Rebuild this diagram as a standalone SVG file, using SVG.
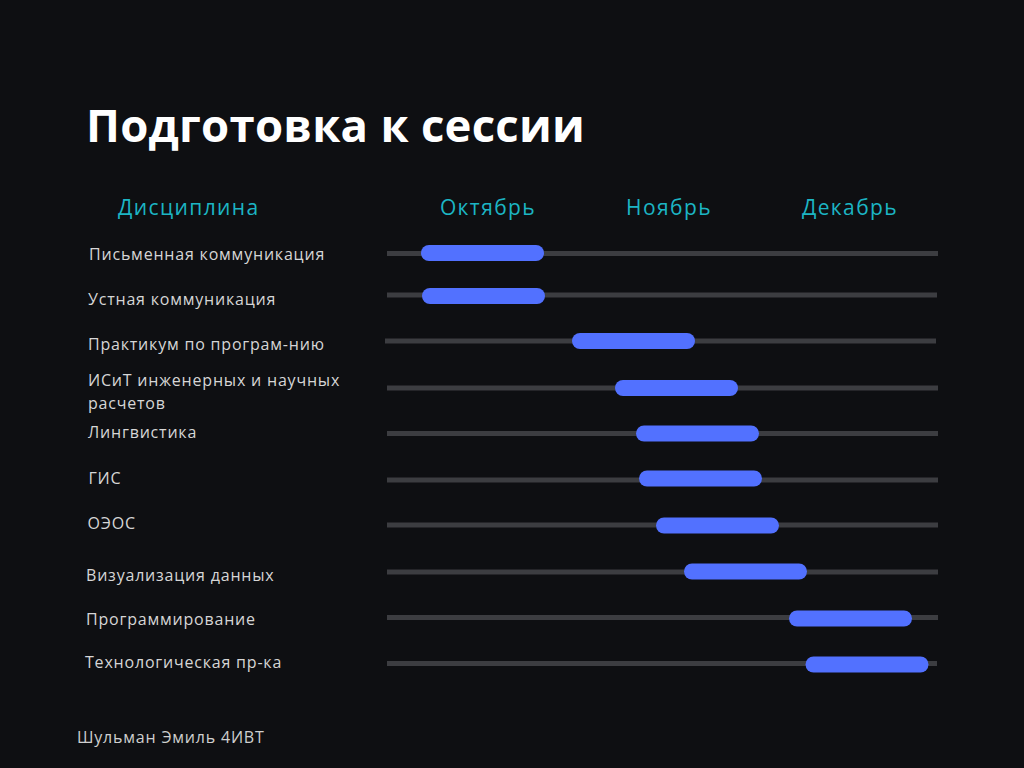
<svg xmlns="http://www.w3.org/2000/svg" width="1024" height="768" viewBox="0 0 1024 768">
<style>
.bg{fill:#0e0f12}
.title{font-family:"Open Sans",sans-serif;font-weight:700;font-size:45.5px;fill:#ffffff;letter-spacing:0.25px}
.head{font-family:"Open Sans",sans-serif;font-size:21px;fill:#1cb5c4;letter-spacing:1.4px}
.lbl{font-family:"Open Sans",sans-serif;font-size:16px;fill:#d6d6d6;letter-spacing:0.8px}
.foot{font-family:"Open Sans",sans-serif;font-size:16px;fill:#cfcfcf;letter-spacing:0.8px}
.track{stroke:#3c3d41;stroke-width:5;fill:none}
.bar{fill:#5271ff}
</style>
<rect class="bg" x="0" y="0" width="1024" height="768"/>
<text class="title" x="86" y="142">Подготовка к сессии</text>
<g id="header">
<text class="head" x="118" y="215">Дисциплина</text>
<text class="head" x="488" y="215" text-anchor="middle">Октябрь</text>
<text class="head" x="669" y="215" text-anchor="middle">Ноябрь</text>
<text class="head" x="850" y="215" text-anchor="middle">Декабрь</text>
</g>
<g id="tracks">
<line class="track" x1="387" y1="253.5" x2="938" y2="253.5"/>
<line class="track" x1="387" y1="295" x2="937" y2="295"/>
<line class="track" x1="385" y1="341" x2="936" y2="341"/>
<line class="track" x1="387" y1="388" x2="938" y2="388"/>
<line class="track" x1="387" y1="433.5" x2="938" y2="433.5"/>
<line class="track" x1="387" y1="480" x2="938" y2="480"/>
<line class="track" x1="387" y1="525" x2="938" y2="525"/>
<line class="track" x1="387" y1="572" x2="938" y2="572"/>
<line class="track" x1="387" y1="617.5" x2="938" y2="617.5"/>
<line class="track" x1="387" y1="663.5" x2="937" y2="663.5"/>
</g>
<g id="row1"><text class="lbl" x="89" y="260">Письменная коммуникация</text><rect class="bar" x="421" y="245" width="123" height="16" rx="8"/></g>
<g id="row2"><text class="lbl" x="88" y="305">Устная коммуникация</text><rect class="bar" x="422" y="288" width="123" height="16" rx="8"/></g>
<g id="row3"><text class="lbl" x="88" y="350">Практикум по програм-нию</text><rect class="bar" x="572" y="333" width="123" height="16" rx="8"/></g>
<g id="row4"><text class="lbl" x="88" y="385.5">ИСиТ инженерных и научных</text><text class="lbl" x="88" y="408.5">расчетов</text><rect class="bar" x="615" y="380" width="123" height="16" rx="8"/></g>
<g id="row5"><text class="lbl" x="88" y="438">Лингвистика</text><rect class="bar" x="636" y="425.5" width="123" height="16" rx="8"/></g>
<g id="row6"><text class="lbl" x="88.5" y="484">ГИС</text><rect class="bar" x="639" y="470.5" width="123" height="16" rx="8"/></g>
<g id="row7"><text class="lbl" x="87.5" y="529">ОЭОС</text><rect class="bar" x="656" y="517.5" width="123" height="16" rx="8"/></g>
<g id="row8"><text class="lbl" x="86" y="581">Визуализация данных</text><rect class="bar" x="684" y="563.5" width="123" height="16" rx="8"/></g>
<g id="row9"><text class="lbl" x="86" y="625">Программирование</text><rect class="bar" x="789" y="610.5" width="123" height="16" rx="8"/></g>
<g id="row10"><text class="lbl" x="85" y="668">Технологическая пр-ка</text><rect class="bar" x="805.5" y="656.5" width="123" height="16" rx="8"/></g>
<text class="foot" x="77" y="743">Шульман Эмиль 4ИВТ</text>
</svg>
